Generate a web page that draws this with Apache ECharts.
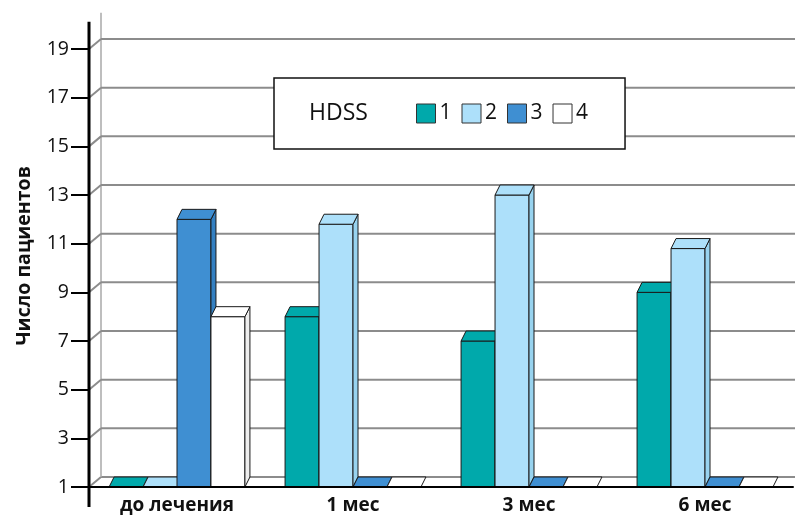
<!DOCTYPE html>
<html>
<head>
<meta charset="utf-8">
<script src="https://cdn.jsdelivr.net/npm/echarts@6/dist/echarts.min.js"></script>
<style>
  html, body { margin: 0; padding: 0; background: #fff; }
  #chart { width: 795px; height: 519px; }
</style>
</head>
<body>
<div id="chart"></div>
<script>
// Categories (time points) and patient counts per HDSS grade
const categories = ['до лечения', '1 мес', '3 мес', '6 мес'];
const grades = ['1', '2', '3', '4'];
const grade1 = [0, 8, 7, 9];
const grade2 = [0, 11.8, 13, 10.8];
const grade3 = [12, 0, 0, 0];
const grade4 = [8, 0, 0, 0];
const yTicks = [1, 3, 5, 7, 9, 11, 13, 15, 17, 19];
const yMin = 1;
const yMax = 20;

const seriesValues = [grade1, grade2, grade3, grade4];
const fronts = ['#00a9ab', '#ade0fa', '#3f8fd2', '#ffffff'];
const sides = ['#008f91', '#98d3ef', '#3480c2', '#eeeeee'];

const FONT = '"Open Sans", "Noto Sans", sans-serif';
const EDGE = '#1a1a1a';
// oblique offsets for the bar depth and for the back wall
const BAR_DX = 5, BAR_DY = -10;
const WALL_DX = 12, WALL_DY = -10;
const BAR_SHARE = 0.193;

function barRenderer(sIdx) {
  return function (params, api) {
    const cat = api.value(0);
    const v = Math.max(api.value(1), yMin);
    const base = api.coord([cat, yMin]);
    const topPt = api.coord([cat, v]);
    const band = api.size([1, 0])[0];
    const w = band * BAR_SHARE;
    const x0 = base[0] - 2 * w + sIdx * w;
    const yb = base[1];
    const yt = topPt[1];
    const h = yb - yt;
    const children = [];
    if (h > 0.5) {
      children.push({
        type: 'rect',
        shape: { x: x0, y: yt, width: w, height: h },
        style: { fill: fronts[sIdx], stroke: EDGE, lineWidth: 1 }
      });
      children.push({
        type: 'polygon',
        shape: { points: [[x0 + w, yt], [x0 + w + BAR_DX, yt + BAR_DY], [x0 + w + BAR_DX, yb + BAR_DY], [x0 + w, yb]] },
        style: { fill: sides[sIdx], stroke: EDGE, lineWidth: 1 }
      });
    }
    children.push({
      type: 'polygon',
      shape: { points: [[x0, yt], [x0 + BAR_DX, yt + BAR_DY], [x0 + w + BAR_DX, yt + BAR_DY], [x0 + w, yt]] },
      style: { fill: fronts[sIdx], stroke: EDGE, lineWidth: 1 }
    });
    return { type: 'group', children: children };
  };
}

// back wall: gridlines set back from the front axis, joined by short diagonals
function wallRenderer(params, api) {
  const cs = params.coordSys;
  const v = api.value(0);
  const y = api.coord([0, v])[1];
  const xf = cs.x;
  const xb = xf + WALL_DX;
  const right = cs.x + cs.width + 4;
  const children = [
    { type: 'line', shape: { x1: xf, y1: y, x2: xb, y2: y + WALL_DY }, style: { stroke: '#8c8c8c', lineWidth: 2 } },
    { type: 'line', shape: { x1: xb, y1: y + WALL_DY, x2: right, y2: y + WALL_DY }, style: { stroke: '#8c8c8c', lineWidth: 2 } }
  ];
  if (params.dataIndex === 0) {
    const yBase = api.coord([0, yMin])[1];
    const yTop = api.coord([0, yMax])[1];
    children.push({ type: 'line', shape: { x1: xb, y1: yBase + WALL_DY, x2: xb, y2: yTop + WALL_DY - 2 }, style: { stroke: '#a8a8a8', lineWidth: 1.5 } });
    children.push({ type: 'line', z2: 10, shape: { x1: xf, y1: yTop - 3, x2: xf, y2: yBase + 20 }, style: { stroke: '#000', lineWidth: 3 } });
  }
  return { type: 'group', children: children };
}

const series = [{
  type: 'custom',
  name: 'wall',
  z: 1,
  silent: true,
  renderItem: wallRenderer,
  data: yTicks.map(function (t) { return [t]; }),
  encode: { y: 0 }
}];
seriesValues.forEach(function (vals, s) {
  series.push({
    type: 'custom',
    name: grades[s],
    z: 2,
    itemStyle: { color: fronts[s], borderColor: '#333', borderWidth: 1 },
    renderItem: barRenderer(s),
    data: vals.map(function (v, i) { return [i, v]; }),
    encode: { x: 0, y: 1 }
  });
});

const chart = echarts.init(document.getElementById('chart'));
chart.setOption({
  animation: false,
  backgroundColor: '#ffffff',
  textStyle: { fontFamily: FONT },
  grid: { left: 89, right: 2, top: 24.7, bottom: 32, containLabel: false },
  title: {
    text: 'HDSS',
    left: 309,
    top: 102,
    padding: 0,
    z: 6,
    textStyle: { fontFamily: FONT, fontSize: 23, fontWeight: 'normal', color: '#111' }
  },
  legend: {
    data: grades,
    left: 274,
    top: 78,
    z: 4,
    orient: 'horizontal',
    padding: [25, 37, 25, 142],
    backgroundColor: '#ffffff',
    borderColor: '#111',
    borderWidth: 1.5,
    borderRadius: 0,
    icon: 'rect',
    itemWidth: 19,
    itemHeight: 19,
    itemGap: 10,
    selectedMode: false,
    itemStyle: { borderColor: '#333', borderWidth: 1 },
    textStyle: { fontFamily: FONT, fontSize: 21, color: '#111', padding: [0, 0, 0, -1] }
  },
  xAxis: {
    type: 'category',
    data: categories,
    z: 5,
    axisLine: { show: true, lineStyle: { color: '#000', width: 2 } },
    axisTick: { show: false },
    splitLine: { show: false },
    axisLabel: { margin: 9, fontFamily: FONT, fontSize: 19, fontWeight: 'bold', color: '#111' }
  },
  yAxis: {
    type: 'value',
    min: yMin,
    max: yMax,
    name: 'Число пациентов',
    nameLocation: 'middle',
    nameGap: 55,
    nameTextStyle: { fontFamily: FONT, fontSize: 19.5, fontWeight: 'bold', color: '#111' },
    axisLine: { show: false },
    axisTick: { show: true, length: 18, customValues: yTicks, lineStyle: { color: '#000', width: 2 } },
    axisLabel: { margin: 20, customValues: yTicks, fontFamily: FONT, fontSize: 19.5, color: '#111' },
    splitLine: { show: false }
  },
  series: series
});
</script>
</body>
</html>
